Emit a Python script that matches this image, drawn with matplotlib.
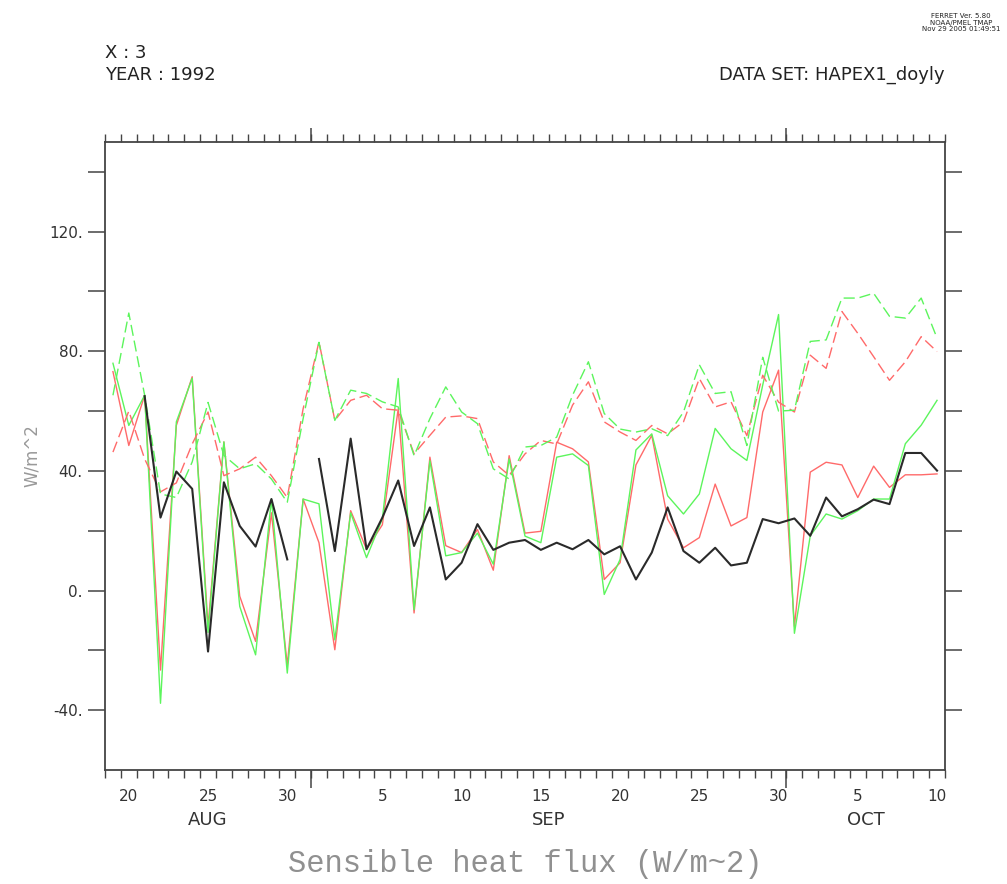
import numpy as np
import matplotlib
matplotlib.use('Agg')
import matplotlib.pyplot as plt
import matplotlib.transforms as mtrans

nan = np.nan

# daily values, Aug 19 .. Oct 10 1992 (W/m^2)
start = np.datetime64('1992-08-19')
end = np.datetime64('1992-10-11')

black_solid = [nan, nan, 65, 24.4, 39.8, 34, -20.4, 36.2, 21.6, 14.7, 30.6, 10.4, nan,
               44, 13.2, 50.8, 13.8, 24.4, 36.8, 14.9, 27.8, 3.7, 9.3, 22.2, 13.6, 16,
               16.9, 13.6, 16, 13.8, 16.9, 12.1, 14.8, 3.7, 12.7, 27.8, 13.2, 9.3, 14.3,
               8.4, 9.3, 23.9, 22.5, 24.1, 18.3, 31.1, 24.8, 27.2, 30.4, 28.9, 46, 46, 40.1]
red_solid = [73.2, 48.5, 65.3, -26.6, 55.2, 71.5, -12, 49.7, -1.9, -17, 26, -25, 30.6,
             16, -19.8, 26.7, 13.8, 22, 60.8, -7.5, 44.6, 15, 12.7, 20.4, 6.8, 45.1,
             19.2, 19.8, 49.6, 47.4, 43, 3.7, 9.3, 42, 51.9, 23.9, 14.3, 17.7, 35.6,
             21.6, 24.4, 59.7, 73.7, -12, 39.6, 42.9, 42, 31.1, 41.6, 34.5, 38.7, 38.7, 39]
green_solid = [76, 55.2, 65.3, -37.7, 56.4, 71, -14, 49.7, -5.3, -21.5, 30.6, -27.6, 30.6,
               29, -16.5, 26, 11, 24, 70.9, -6.4, 43.4, 11.6, 12.7, 19.2, 8.8, 44,
               18.2, 16, 44.6, 45.7, 41.8, -1.3, 10.4, 47, 52.4, 31.7, 25.6, 32.3, 54.2,
               47.4, 43.5, 68.7, 92.3, -14.3, 18.3, 25.6, 23.9, 26.7, 30.6, 30.6, 49.1, 55.3, 63.6]
red_dashed = [46.3, 60, 44, 33, 36, 49, 59.7, 38.4, 40.7, 44.6, 38.4, 31.1, 60.8,
              83.2, 56.9, 63.6, 65.3, 60.8, 60.3, 45.7, 51.9, 58, 58.4, 57.5, 43, 38.5,
              45.7, 50.2, 49, 62, 69.8, 56.4, 53, 50.2, 55.2, 52.4, 56.4, 70.9, 61.4,
              63.1, 51.8, 72, 63, 59.7, 78.7, 74.3, 93.3, 86, 78.2, 70.3, 76.5, 84.9, 79.9]
green_dashed = [65.3, 92.8, 65.3, 32.3, 31.1, 43, 62.9, 45.2, 40.7, 42.4, 37.3, 29.5, 57.5,
                83, 56.9, 67, 65.9, 63.1, 61.4, 45.1, 57.5, 68.1, 59.7, 55.8, 40.7, 37.3,
                48, 48.5, 51.3, 65.3, 76.5, 59.2, 54, 53, 54.1, 51.8, 59.7, 75.5, 65.9,
                66.5, 48.5, 78, 60, 60.3, 83.3, 83.8, 97.8, 97.8, 99.4, 91.7, 91.1, 97.8, 84.4]

label_dates = ['1992-08-20', '1992-08-25', '1992-08-30', '1992-09-05', '1992-09-10',
               '1992-09-15', '1992-09-20', '1992-09-25', '1992-09-30', '1992-10-05',
               '1992-10-10']
month_names = ['AUG', 'SEP', 'OCT']
month_starts = ['1992-08-19', '1992-09-01', '1992-10-01', '1992-10-11']
ylabels = [-40, 0, 40, 80, 120]


def day_num(d):
    return (np.datetime64(d) - start).astype(float)


ndays = int(day_num(end))
x = np.arange(ndays) + 0.5

fig = plt.figure(figsize=(10.07, 8.84), dpi=100)
ax = fig.add_axes([0.1043, 0.129, 0.8341, 0.7104])

red = '#ff6a6a'
green = '#5cf55c'
ax.plot(x, red_solid, color=red, lw=1.0)
ax.plot(x, green_solid, color=green, lw=1.0)
ax.plot(x, red_dashed, color=red, lw=1.0, dashes=(8, 3.5))
ax.plot(x, green_dashed, color=green, lw=1.0, dashes=(8, 3.5))
ax.plot(x, black_solid, color='#2a2a2a', lw=1.5)

ax.set_xlim(0, ndays)
ax.set_ylim(-60, 150)

for s in ax.spines.values():
    s.set_color('#444444')
    s.set_linewidth(1.3)

# y axis: ticks every 20 both sides, outward
ax.set_yticks(np.arange(-40, 141, 20))
ax.set_yticklabels([f'{v}.' if v in ylabels else '' for v in np.arange(-40, 141, 20)])
ax.tick_params(axis='y', which='major', direction='out', length=12, width=1.1,
               color='#444444', left=True, right=True, labelsize=11,
               labelcolor='#333333', pad=4)

# x axis: day ticks, longer ticks at month boundaries
ax.set_xticks(np.arange(0, ndays + 1), minor=True)
ax.set_xticks([])
ax.tick_params(axis='x', which='minor', direction='out', length=6, width=1.0,
               color='#444444', top=True, bottom=True)
for side in ['bottom', 'top']:
    sec = ax.secondary_xaxis(side)
    sec.set_xticks([day_num(d) for d in month_starts[1:3]])
    sec.set_xticklabels([])
    sec.tick_params(direction='out', length=13 if side == 'bottom' else 10,
                    width=1.1, color='#444444')
    sec.spines[side].set_visible(False)

tr = mtrans.blended_transform_factory(ax.transData, ax.transAxes)
for d in label_dates:
    ax.text(day_num(d) + 0.5, -0.03, str(int(d[-2:])), transform=tr, ha='center',
            va='top', fontsize=11, color='#333333')
for i, m in enumerate(month_names):
    xm = (day_num(month_starts[i]) + day_num(month_starts[i + 1])) / 2
    ax.text(xm, -0.066, m, transform=tr, ha='center', va='top', fontsize=13,
            color='#333333')

ax.set_ylabel('W/m^2', color='#999999', fontsize=12, labelpad=6)

fig.text(0.1043, 0.94, 'X : 3', fontsize=13, color='#222222', va='center')
fig.text(0.1043, 0.915, 'YEAR : 1992', fontsize=13, color='#222222', va='center')
fig.text(0.9384, 0.915, 'DATA SET: HAPEX1_doyly', fontsize=13, color='#222222',
         va='center', ha='right')
fig.text(0.9935, 0.985, 'FERRET Ver. 5.80\nNOAA/PMEL TMAP\nNov 29 2005 01:49:51',
         fontsize=5, color='#222222', va='top', ha='right', linespacing=1.1,
         multialignment='center')

fig.text(0.5214, 0.006, 'Sensible heat flux (W/m~2)', fontsize=22, color='#909090',
         ha='center', va='bottom', family='Liberation Mono')

fig.savefig('out.png', dpi=100)
